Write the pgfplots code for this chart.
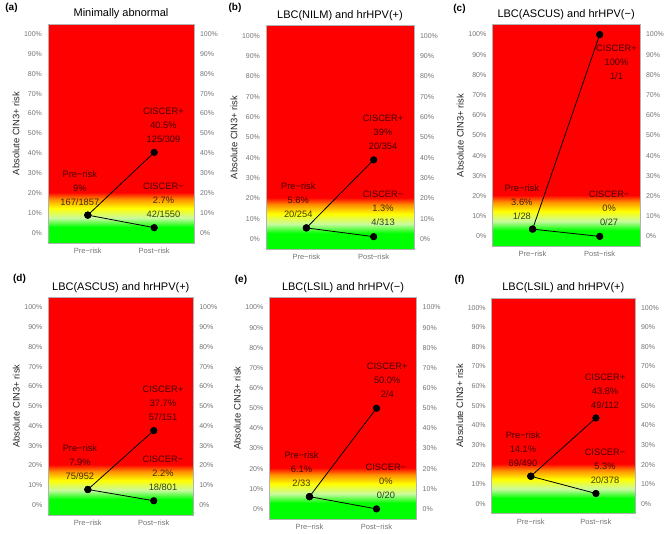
\documentclass[border=0pt]{standalone}
\usepackage{pgfplots}
\pgfplotsset{compat=1.18}
\usepackage{fontspec}
\setmainfont{Liberation Sans}
\definecolor{rgreen}{RGB}{0,255,0}
\definecolor{rpale}{RGB}{200,250,160}
\definecolor{ryellow}{RGB}{255,255,0}
\definecolor{rorange}{RGB}{255,145,0}
\definecolor{rred}{RGB}{255,0,0}
% shading covering y = -5 .. 30 (mapped onto 25bp .. 75bp)
\pgfdeclareverticalshading{riskbg}{100bp}{color(0bp)=(rgreen); color(25bp)=(rgreen); color(36.4bp)=(rgreen); color(42.9bp)=(rpale); color(50bp)=(ryellow); color(56.4bp)=(rorange); color(61.4bp)=(rred); color(75bp)=(rred); color(100bp)=(rred)}
\pgfplotsset{
  riskbase/.style={scale only axis, anchor=south west,
    xmin=0.4, xmax=2.6, ymin=-5, ymax=105,
    ytick={0,10,20,30,40,50,60,70,80,90,100},
    yticklabels={0\%,10\%,20\%,30\%,40\%,50\%,60\%,70\%,80\%,90\%,100\%},
    major tick length=0pt, clip=false,
    axis line style={black!30, line width=0.5pt},
    yticklabel style={font=\fontsize{7}{8}\selectfont, text=black!55},
    xticklabel style={font=\fontsize{7.5}{9}\selectfont, text=black!55, yshift=-1.5pt},
  },
  riskL/.style={riskbase, axis on top,
    xtick={1,2}, xticklabels={Pre−risk,Post−risk},
    yticklabel style={xshift=-2.5pt},
    ylabel={Absolute CIN3+ risk},
    ylabel style={at={([xshift=-32pt]axis description cs:0,0.5)}, anchor=center, font=\fontsize{9.4}{11}\selectfont, text=black!85},
    title style={at={(0.5,1)}, anchor=center, yshift=4pt, font=\fontsize{11}{13}\selectfont},
  },
  riskR/.style={riskbase, xtick=\empty, ytick pos=right, yticklabel pos=right,
    yticklabel style={xshift=2.5pt}, axis line style={draw=none}},
  riskline/.style={black, line width=0.8pt, mark=*, mark size=3.2pt, mark options={solid, fill=black}},
}
\tikzset{riskl/.style={font=\fontsize{9.3}{14}\selectfont, align=center, text=black, text opacity=0.75, inner sep=0pt}}
\newcommand\lab[3]{\node[riskl] at (axis cs:#1,#2) {#3};}
\newcommand\bg{%
  \fill[shading=riskbg] (axis cs:0.4,-5) rectangle (axis cs:2.6,30);
  \fill[rred] (axis cs:0.4,21.5) rectangle (axis cs:2.6,105);
  \fill[rgreen] (axis cs:0.4,-5) rectangle (axis cs:2.6,2.8);}
\begin{document}
\begin{tikzpicture}
\useasboundingbox (0,0) rectangle (670pt,534pt);
% (a)
\begin{axis}[riskL, at={(48pt,291pt)}, width=146pt, height=219pt, title={Minimally abnormal}]
\bg
\addplot[riskline] coordinates {(1,9) (2,40.5)};
\addplot[riskline] coordinates {(1,9) (2,2.7)};
\lab{0.88}{22.7}{Pre−risk\\9\%\\167/1857}
\lab{2.14}{54.2}{CISCER+\\40.5\%\\125/309}
\lab{2.14}{16.4}{CISCER−\\2.7\%\\42/1550}
\end{axis}
\begin{axis}[riskR, at={(48pt,291pt)}, width=146pt, height=219pt]
\addplot[draw=none] coordinates {(1,0)};
\end{axis}
% (b)
\begin{axis}[riskL, at={(266pt,284.5pt)}, width=148pt, height=224pt, title={LBC(NILM) and hrHPV(+)}]
\bg
\addplot[riskline] coordinates {(1,5.6) (2,39)};
\addplot[riskline] coordinates {(1,5.6) (2,1.3)};
\lab{0.88}{19.3}{Pre−risk\\5.6\%\\20/254}
\lab{2.14}{52.7}{CISCER+\\39\%\\20/354}
\lab{2.14}{15}{CISCER−\\1.3\%\\4/313}
\end{axis}
\begin{axis}[riskR, at={(266pt,284.5pt)}, width=148pt, height=224pt]
\addplot[draw=none] coordinates {(1,0)};
\end{axis}
% (c)
\begin{axis}[riskL, at={(492.3pt,287.5pt)}, width=147.7pt, height=222pt, title={LBC(ASCUS) and hrHPV(−)}]
\bg
\addplot[riskline] coordinates {(1,3.6) (2,100)};
\addplot[riskline] coordinates {(1,3.6) (2,0)};
\lab{0.84}{17.1}{Pre−risk\\3.6\%\\1/28}
\lab{2.25}{86.5}{CISCER+\\100\%\\1/1}
\lab{2.14}{13.7}{CISCER−\\0\%\\0/27}
\end{axis}
\begin{axis}[riskR, at={(492.3pt,287.5pt)}, width=147.7pt, height=222pt]
\addplot[draw=none] coordinates {(1,0)};
\end{axis}
% (d)
\begin{axis}[riskL, at={(48.3pt,19pt)}, width=145pt, height=217.5pt, title={LBC(ASCUS) and hrHPV(+)}]
\bg
\addplot[riskline] coordinates {(1,7.9) (2,37.7)};
\addplot[riskline] coordinates {(1,7.9) (2,2.2)};
\lab{0.88}{21.6}{Pre−risk\\7.9\%\\75/952}
\lab{2.14}{51.4}{CISCER+\\37.7\%\\57/151}
\lab{2.14}{15.9}{CISCER−\\2.2\%\\18/801}
\end{axis}
\begin{axis}[riskR, at={(48.3pt,19pt)}, width=145pt, height=217.5pt]
\addplot[draw=none] coordinates {(1,0)};
\end{axis}
% (e)
\begin{axis}[riskL, at={(269.3pt,15pt)}, width=147.4pt, height=221.5pt, title={LBC(LSIL) and hrHPV(−)}]
\bg
\addplot[riskline] coordinates {(1,6.1) (2,50)};
\addplot[riskline] coordinates {(1,6.1) (2,0)};
\lab{0.88}{19.9}{Pre−risk\\6.1\%\\2/33}
\lab{2.16}{63.7}{CISCER+\\50.0\%\\2/4}
\lab{2.14}{13.8}{CISCER−\\0\%\\0/20}
\end{axis}
\begin{axis}[riskR, at={(269.3pt,15pt)}, width=147.4pt, height=221.5pt]
\addplot[draw=none] coordinates {(1,0)};
\end{axis}
% (f)
\begin{axis}[riskL, at={(491.7pt,20.3pt)}, width=143.3pt, height=215.8pt, title={LBC(LSIL) and hrHPV(+)}]
\bg
\addplot[riskline] coordinates {(1,14.1) (2,43.8)};
\addplot[riskline] coordinates {(1,14.1) (2,5.3)};
\lab{0.88}{27.7}{Pre−risk\\14.1\%\\69/490}
\lab{2.14}{57.5}{CISCER+\\43.8\%\\49/112}
\lab{2.14}{19}{CISCER−\\5.3\%\\20/378}
\end{axis}
\begin{axis}[riskR, at={(491.7pt,20.3pt)}, width=143.3pt, height=215.8pt]
\addplot[draw=none] coordinates {(1,0)};
\end{axis}
% panel letters
\begin{scope}[every node/.style={font=\bfseries\fontsize{10}{12}\selectfont, inner sep=0pt}]
\node at (11.5pt,526pt) {(a)};
\node at (235pt,525.7pt) {(b)};
\node at (459.5pt,525pt) {(c)};
\node at (19.5pt,254.7pt) {(d)};
\node at (241pt,254pt) {(e)};
\node at (459.5pt,254pt) {(f)};
\end{scope}
\end{tikzpicture}
\end{document}
